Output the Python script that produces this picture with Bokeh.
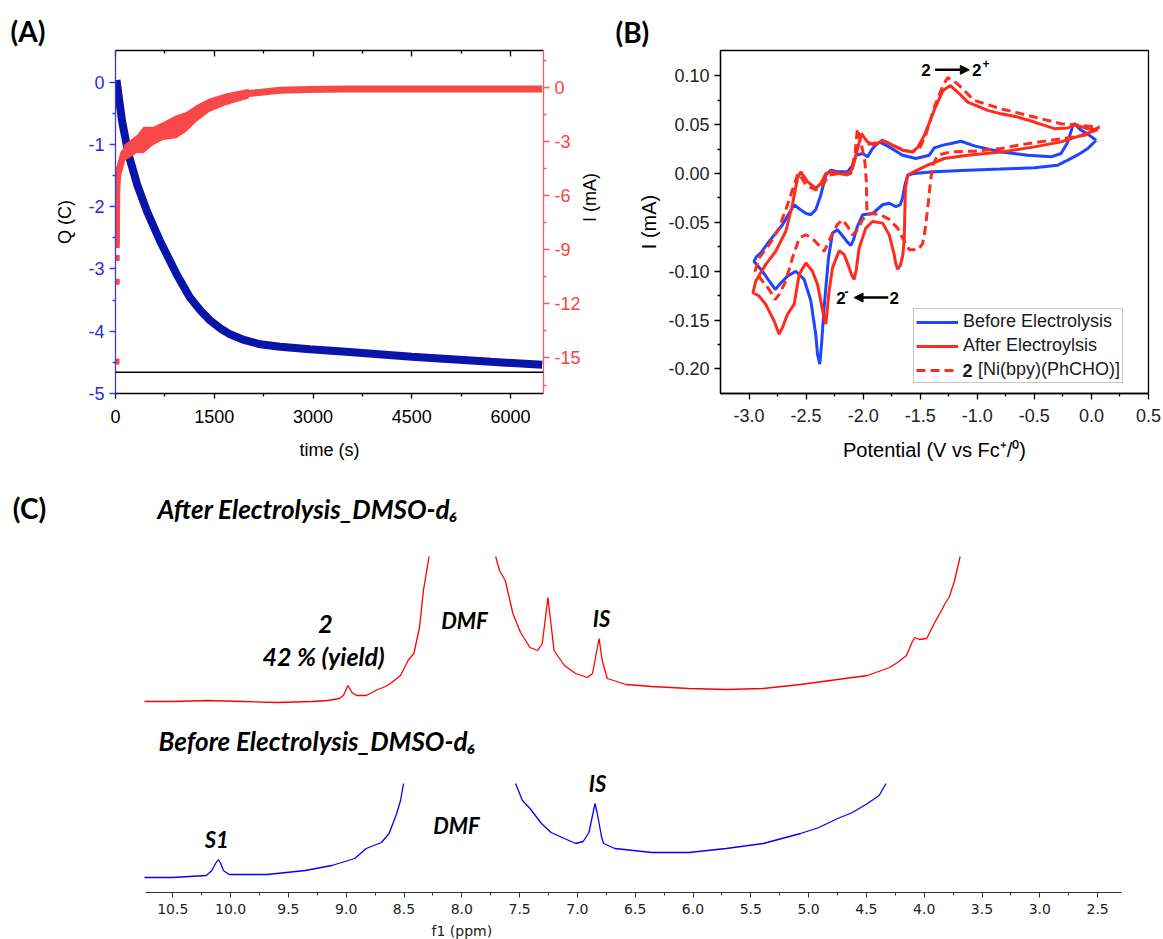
import math
from bokeh.plotting import figure
from bokeh.layouts import column, row
from bokeh.models import (Range1d, LinearAxis, FixedTicker, Span, Label, Legend, Title,
                          LegendItem, Arrow, NormalHead, NumeralTickFormatter)
from bokeh.embed import file_html
from bokeh.resources import INLINE

# ---------------- Panel A : controlled potential electrolysis ----------------
q_time = [15, 100, 200, 330, 480, 680, 930, 1130, 1300, 1440, 1600, 1740, 1950, 2200,
          2500, 2950, 3500, 4000, 4500, 5100, 5700, 6480]
q_charge = [0.03, -0.63, -1.17, -1.65, -2.08, -2.56, -3.09, -3.46, -3.68, -3.83, -3.96,
            -4.05, -4.14, -4.21, -4.25, -4.29, -4.33, -4.37, -4.41, -4.45, -4.49, -4.54]
i_time = [12, 15, 20, 35, 75, 125, 200, 325, 425, 575, 725, 925, 1075, 1225, 1425, 1675,
          2025, 2500, 2925, 3500, 4500, 5500, 6480]
i_current = [-8.9, -7.4, -5.6, -4.8, -4.3, -3.64, -3.35, -3.12, -2.9, -2.67, -2.4, -2.17,
             -1.9, -1.44, -0.98, -0.65, -0.33, -0.15, -0.1, -0.08, -0.08, -0.08, -0.08]
noise_time = [125, 325, 425, 575, 725, 925, 1075, 1225, 1425, 1675, 2025]
noise_upper = [-3.18, -2.63, -2.17, -2.17, -1.9, -1.53, -1.35, -0.98, -0.61, -0.33, -0.06]
noise_lower = [-4.1, -3.62, -3.64, -3.18, -2.9, -2.81, -2.45, -1.9, -1.35, -0.98, -0.61]
spike_time = [15, 15, 18, 18, 15]
spike_current = [-8.25, -8.6, -9.45, -10.77, -15.2]
q_theoretical = -4.66
time_ticks = [0, 1500, 3000, 4500, 6000]
time_minor = [750, 2250, 3750, 5250]
q_ticks = [-5, -4, -3, -2, -1, 0]
q_minor = [-4.5, -3.5, -2.5, -1.5, -0.5]
i_ticks = [-15, -12, -9, -6, -3, 0]
i_minor = [-16.5, -13.5, -10.5, -7.5, -4.5, -1.5, 1.5]

# ---------------- Panel B : cyclic voltammograms ----------------
before_v = [0.042, -0.032, -0.12, -0.207, -0.295, -0.50, -0.80, -1.084, -1.377, -1.56,
            -1.61, -1.635, -1.655, -1.675, -1.713, -1.772, -1.83, -1.918, -2.005, -2.05,
            -2.085, -2.108, -2.14, -2.166, -2.225, -2.269, -2.304, -2.342, -2.365, -2.38,
            -2.40, -2.415, -2.459, -2.517, -2.59, -2.663, -2.722, -2.771, -2.824, -2.883,
            -2.956, -2.935, -2.897, -2.824, -2.707, -2.605, -2.55, -2.50, -2.459, -2.415,
            -2.371, -2.327, -2.283, -2.225, -2.137, -2.093, -2.064, -2.005, -1.962, -1.918,
            -1.859, -1.772, -1.655, -1.538, -1.421, -1.377, -1.30, -1.23, -1.143, -1.026,
            -0.79, -0.558, -0.353, -0.266, -0.207, -0.163, -0.148, -0.10, -0.03, 0.042]
before_i = [0.034, 0.0255, 0.019, 0.0136, 0.0085, 0.0058, 0.0045, 0.0034, 0.0018, 0.0,
            -0.002, -0.012, -0.025, -0.032, -0.034, -0.0305, -0.032, -0.041, -0.0423, -0.054,
            -0.068, -0.0735, -0.070, -0.066, -0.0576, -0.061, -0.0864, -0.137, -0.175, -0.195,
            -0.185, -0.165, -0.130, -0.1085, -0.100, -0.105, -0.112, -0.1186, -0.110, -0.100,
            -0.090, -0.085, -0.0813, -0.0695, -0.0525, -0.032, -0.037, -0.041, -0.0423, -0.037,
            -0.022, -0.0016, 0.0034, 0.0017, 0.0017, 0.0085, 0.0187, 0.0204, 0.017, 0.0255,
            0.0322, 0.0272, 0.0187, 0.0153, 0.0187, 0.0262, 0.029, 0.0306, 0.033, 0.0282,
            0.022, 0.0187, 0.017, 0.0204, 0.0323, 0.0492, 0.051, 0.045, 0.04, 0.034]
after_v = [0.056, -0.09, -0.266, -0.50, -0.79, -1.084, -1.289, -1.435, -1.552, -1.61,
           -1.63, -1.635, -1.64, -1.655, -1.675, -1.698, -1.715, -1.728, -1.772, -1.83,
           -1.918, -1.977, -2.035, -2.06, -2.079, -2.10, -2.122, -2.166, -2.21, -2.269,
           -2.30, -2.327, -2.345, -2.40, -2.444, -2.502, -2.561, -2.605, -2.663, -2.707,
           -2.736, -2.78, -2.853, -2.912, -2.965, -2.941, -2.853, -2.766, -2.678, -2.62,
           -2.576, -2.546, -2.488, -2.415, -2.371, -2.327, -2.283, -2.21, -2.137, -2.093,
           -2.049, -2.014, -1.985, -1.962, -1.903, -1.83, -1.742, -1.655, -1.567, -1.52,
           -1.46, -1.37, -1.30, -1.236, -1.16, -1.084, -0.909, -0.792, -0.646, -0.50,
           -0.324, -0.207, -0.148, -0.032, 0.056]
after_i = [0.045, 0.039, 0.0323, 0.0272, 0.022, 0.0187, 0.0153, 0.0085, 0.0018, -0.0016,
           -0.015, -0.04, -0.069, -0.085, -0.094, -0.098, -0.092, -0.083, -0.0627, -0.0508,
           -0.0491, -0.0559, -0.0762, -0.098, -0.1085, -0.104, -0.0966, -0.083, -0.079, -0.0966,
           -0.122, -0.154, -0.146, -0.1135, -0.100, -0.0915, -0.1034, -0.134, -0.144, -0.1576,
           -0.1644, -0.151, -0.134, -0.1254, -0.122, -0.110, -0.093, -0.0796, -0.0593, -0.032,
           -0.005, 0.0017, -0.0084, -0.0152, -0.0101, 0.0, 0.0017, 0.0, -0.0016, 0.0051,
           0.0255, 0.0407, 0.036, 0.0323, 0.0289, 0.034, 0.0289, 0.0238, 0.0221, 0.027,
           0.040, 0.067, 0.085, 0.0899, 0.082, 0.073, 0.0645, 0.061, 0.0577, 0.0526,
           0.0458, 0.0465, 0.0499, 0.0458, 0.045]
complex_v = [0.071, -0.061, -0.353, -0.646, -0.79, -1.026, -1.23, -1.347, -1.39, -1.41,
             -1.435, -1.46, -1.48, -1.52, -1.596, -1.655, -1.698, -1.772, -1.845, -1.918,
             -1.962, -2.005, -2.05, -2.093, -2.137, -2.181, -2.225, -2.283, -2.342, -2.40,
             -2.444, -2.502, -2.56, -2.62, -2.678, -2.736, -2.771, -2.824, -2.883, -2.947,
             -2.912, -2.824, -2.736, -2.663, -2.605, -2.576, -2.561, -2.502, -2.415, -2.356,
             -2.298, -2.21, -2.108, -2.07, -2.05, -2.02, -1.985, -1.972, -1.968, -1.962]
complex_i = [0.0475, 0.039, 0.034, 0.0289, 0.0255, 0.0228, 0.0221, 0.0187, 0.0085, -0.008,
             -0.036, -0.06, -0.072, -0.078, -0.078, -0.066, -0.0559, -0.047, -0.0423, -0.041,
             -0.0423, -0.047, -0.0576, -0.063, -0.054, -0.0474, -0.052, -0.065, -0.0796, -0.072,
             -0.0665, -0.0627, -0.066, -0.0865, -0.110, -0.1237, -0.129, -0.1186, -0.110, -0.100,
             -0.0865, -0.0729, -0.0559, -0.032, -0.0118, -0.0016, 0.0, -0.0118, -0.0169, -0.0118,
             -0.0016, 0.0, 0.0, 0.022, 0.0458, 0.0323, 0.012, -0.0084, -0.0356, -0.042]
complex_ox_v = [-1.962, -1.90, -1.83, -1.74, -1.65, -1.567, -1.50, -1.45, -1.37, -1.30,
                -1.26, -1.20, -1.157, -1.026, -0.792, -0.50, -0.266, -0.09, 0.071]
complex_ox_i = [0.030, 0.031, 0.034, 0.029, 0.024, 0.022, 0.027, 0.040, 0.070, 0.090,
                0.098, 0.094, 0.0899, 0.0747, 0.0662, 0.0577, 0.0509, 0.0492, 0.0475]
cv_v_ticks = [-3.0, -2.5, -2.0, -1.5, -1.0, -0.5, 0.0, 0.5]
cv_v_minor = [-2.75, -2.25, -1.75, -1.25, -0.75, -0.25, 0.25]
cv_i_ticks = [-0.20, -0.15, -0.10, -0.05, 0.00, 0.05, 0.10]
cv_i_minor = [-0.175, -0.125, -0.075, -0.025, 0.025, 0.075]
cv_labels = ["Before Electrolysis", "After Electroylsis", "\u2007 [Ni(bpy)(PhCHO)]"]

# ---------------- Panel C : 1H NMR spectra ----------------
red_left_ppm = [10.745, 10.5, 10.2, 9.9, 9.6, 9.3, 9.157, 9.06, 9.024, 8.985, 8.95, 8.909,
                8.827, 8.76, 8.728, 8.68, 8.629, 8.53, 8.465, 8.415, 8.366, 8.332, 8.283]
red_left_int = [19.1, 19.1, 19.2, 19.1, 19.0, 19.1, 19.2, 19.4, 19.7, 20.7, 20.0, 19.7,
                19.7, 20.1, 20.3, 20.5, 20.8, 21.7, 23.2, 23.9, 26.5, 30.2, 33.6]
red_right_ppm = [7.707, 7.674, 7.624, 7.558, 7.492, 7.41, 7.344, 7.304, 7.272, 7.255,
                 7.235, 7.202, 7.113, 7.015, 6.915, 6.869, 6.837, 6.812, 6.786, 6.741,
                 6.58, 6.356, 6.035, 5.713, 5.392, 5.07, 4.749, 4.491, 4.299, 4.23,
                 4.154, 4.106, 4.081, 4.042, 3.978, 3.914, 3.85, 3.82, 3.785, 3.737, 3.689]
red_right_int = [33.6, 32.2, 31.2, 27.9, 26.0, 24.5, 24.2, 24.9, 27.9, 29.5,
                 27.5, 24.2, 22.7, 21.9, 21.5, 21.9, 23.9, 25.4, 23.2, 21.4,
                 20.8, 20.6, 20.4, 20.3, 20.4, 20.8, 21.3, 21.7, 22.5, 23.0,
                 23.7, 25.0, 25.5, 25.3, 25.4, 26.9, 28.2, 28.9, 29.5, 31.2, 33.6]
blue_left_ppm = [10.745, 10.5, 10.21, 10.162, 10.13, 10.106, 10.085, 10.062, 10.013, 9.683,
                 9.354, 9.124, 8.926, 8.827, 8.695, 8.629, 8.563, 8.53, 8.504]
blue_left_int = [1.5, 1.5, 1.7, 2.2, 2.9, 3.3, 2.9, 2.2, 1.8, 1.8,
                 2.2, 2.7, 3.4, 4.4, 5.0, 5.9, 7.9, 9.2, 10.9]
blue_right_ppm = [7.535, 7.476, 7.41, 7.311, 7.228, 7.113, 7.015, 6.95, 6.90, 6.875,
                  6.847, 6.83, 6.812, 6.79, 6.773, 6.677, 6.516, 6.356, 6.035, 5.713,
                  5.392, 5.07, 4.91, 4.749, 4.62, 4.491, 4.39, 4.33]
blue_right_int = [10.9, 9.2, 8.4, 6.9, 6.0, 5.4, 4.9, 5.1, 6.0, 7.4,
                  8.9, 8.0, 6.9, 5.5, 4.9, 4.4, 4.2, 4.0, 4.0, 4.4,
                  4.9, 5.9, 6.5, 7.4, 8.0, 8.9, 9.7, 10.9]
nmr_ticks = [10.5, 10.0, 9.5, 9.0, 8.5, 8.0, 7.5, 7.0, 6.5, 6.0, 5.5, 5.0, 4.5, 4.0, 3.5,
             3.0, 2.5]
nmr_minor = [10.25, 9.75, 9.25, 8.75, 8.25, 7.75, 7.25, 6.75, 6.25, 5.75, 5.25, 4.75,
             4.25, 3.75, 3.25, 2.75]
nmr_axis_extent = (2.29, 10.736)

FONT = "Liberation Sans"
TITLE_FONT = "Lato"
A_BLUE = "#0a14aa"
A_BLUE_AX = "#3a3ae6"
A_RED = "#f84848"
B_BLUE = "#1e46ff"
B_RED = "#ff2b1c"


def style_axis(ax, line_color="black", label_color="black", size="18px", font=FONT,
               t_out=6, t_in=0, m_out=3, m_in=0):
    ax.axis_line_color = line_color
    ax.axis_line_width = 1.3
    ax.major_tick_line_color = line_color
    ax.minor_tick_line_color = line_color
    ax.major_tick_line_width = 1.3
    ax.minor_tick_line_width = 1.3
    ax.major_label_text_color = label_color
    ax.major_label_text_font = font
    ax.major_label_text_font_size = size
    ax.axis_label_text_font = font
    ax.axis_label_text_font_style = "normal"
    ax.axis_label_text_color = "black"
    ax.major_tick_out = t_out
    ax.major_tick_in = t_in
    ax.minor_tick_out = m_out
    ax.minor_tick_in = m_in


def panel_title(text, offset, standoff):
    return Title(text=text, align="left", offset=offset, standoff=standoff,
                 text_font=TITLE_FONT, text_font_style="bold", text_font_size="28px",
                 text_color="black")


# ================= Panel A =================
pA = figure(width=612, height=470, output_backend="svg", toolbar_location=None,
            x_range=Range1d(0, 6500), y_range=Range1d(-5, 0.506),
            min_border_left=115, min_border_right=63, min_border_top=50, min_border_bottom=75)
pA.outline_line_color = None
pA.grid.visible = False
pA.extra_y_ranges = {"cur": Range1d(-16.97, 2.06)}

xa = pA.xaxis[0]
xa.ticker = FixedTicker(ticks=time_ticks, minor_ticks=time_minor)
xa.formatter = NumeralTickFormatter(format="0")
xa.axis_label = "time (s)"
style_axis(xa, t_out=5, m_out=3)
xa.major_label_standoff = 11
xa.axis_label_standoff = 14
xa.axis_label_text_font_size = "18px"

ya = pA.yaxis[0]
ya.ticker = FixedTicker(ticks=q_ticks, minor_ticks=q_minor)
ya.formatter = NumeralTickFormatter(format="0")
ya.axis_label = "Q (C)"
style_axis(ya, line_color=A_BLUE_AX, label_color="#2a2ad8", t_out=6, m_out=3)
ya.major_label_standoff = 5
ya.axis_label_standoff = 10
ya.axis_label_text_font_size = "18px"

ra = LinearAxis(y_range_name="cur", ticker=FixedTicker(ticks=i_ticks, minor_ticks=i_minor),
                formatter=NumeralTickFormatter(format="0"), axis_label="I (mA)")
style_axis(ra, line_color="#ff5a5a", label_color="#ff4040", t_out=6, m_out=3)
ra.major_label_standoff = 5
ra.axis_label_standoff = 6
ra.axis_label_text_font_size = "18px"
ra.axis_label_orientation = math.pi / 2
pA.add_layout(ra, "right")

ta = LinearAxis(ticker=FixedTicker(ticks=time_ticks, minor_ticks=time_minor))
style_axis(ta, t_out=0, t_in=6, m_out=0, m_in=3)
ta.major_label_overrides = {t: "" for t in time_ticks}
ta.major_label_standoff = 0
pA.add_layout(ta, "above")
pA.add_layout(panel_title("(A)", -105, 5), "above")

pA.line(q_time, q_charge, line_width=8, color=A_BLUE)
pA.varea(x=noise_time, y1=noise_lower, y2=noise_upper, y_range_name="cur", fill_color=A_RED)
pA.line(i_time, i_current, y_range_name="cur", line_width=7, color=A_RED)
pA.scatter(spike_time, spike_current, y_range_name="cur", marker="square", size=5,
           color=A_RED)
pA.add_layout(Span(location=q_theoretical, dimension="width", line_color="black",
                   line_width=1.5))

# ================= Panel B =================
pB = figure(width=551, height=470, output_backend="svg", toolbar_location=None,
            x_range=Range1d(-3.25, 0.5), y_range=Range1d(-0.2251, 0.1258),
            min_border_left=108, min_border_right=15, min_border_top=48, min_border_bottom=77)
pB.outline_line_color = "black"
pB.outline_line_width = 1.3
pB.grid.visible = False

bx = pB.xaxis[0]
bx.ticker = FixedTicker(ticks=cv_v_ticks, minor_ticks=cv_v_minor)
bx.formatter = NumeralTickFormatter(format="0.0")
bx.axis_label = "Potential (V vs Fc\u207a/\u2070)"
style_axis(bx, label_color="#222222")
bx.major_label_standoff = 9
bx.axis_label_standoff = 14
bx.axis_label_text_font_size = "20px"

by = pB.yaxis[0]
by.ticker = FixedTicker(ticks=cv_i_ticks, minor_ticks=cv_i_minor)
by.formatter = NumeralTickFormatter(format="0.00")
by.axis_label = "I (mA)"
style_axis(by, label_color="#222222")
by.major_label_standoff = 5
by.axis_label_standoff = 5
by.axis_label_text_font_size = "20px"
pB.add_layout(panel_title("(B)", -105, 3), "above")

r_before = pB.line(before_v, before_i, line_width=3, color=B_BLUE)
r_after = pB.line(after_v, after_i, line_width=3, color=B_RED)
r_cplx = pB.line(complex_v, complex_i, line_width=3, color=B_RED, line_dash="9 5")
pB.line(complex_ox_v, complex_ox_i, line_width=3, color=B_RED, line_dash="9 5")

# bold compound number drawn beneath a see-through legend box
pB.add_layout(Label(x=242, y=23, x_units="screen", y_units="screen", text="2",
                    text_font=FONT, text_font_style="bold", text_font_size="18px",
                    text_color="#1a1a1a", text_align="left", text_baseline="middle"))
legend = Legend(items=[LegendItem(label=cv_labels[0], renderers=[r_before]),
                       LegendItem(label=cv_labels[1], renderers=[r_after]),
                       LegendItem(label=cv_labels[2], renderers=[r_cplx])],
                location=(193, 10), padding=2, spacing=3, margin=0, glyph_width=42,
                glyph_height=20, label_height=20, label_standoff=5,
                label_text_font=FONT, label_text_font_size="18px",
                label_text_color="#1a1a1a", border_line_color="#8c8c8c",
                border_line_width=1, background_fill_alpha=0)
pB.add_layout(legend)

bold_lbl = dict(text_font=FONT, text_font_style="bold", text_font_size="17px",
                text_align="center", text_baseline="middle", text_color="black")
pB.add_layout(Label(x=-1.45, y=0.106, text="2", **bold_lbl))
pB.add_layout(Label(x=-1.005, y=0.106, text="2", **bold_lbl))
pB.add_layout(Label(x=-0.955, y=0.112, text="+", text_font=FONT, text_font_style="bold",
                    text_font_size="12px", text_align="left", text_baseline="middle",
                    text_color="black"))
pB.add_layout(Arrow(end=NormalHead(size=9, fill_color="black", line_color="black"),
                    x_start=-1.37, y_start=0.106, x_end=-1.07, y_end=0.106,
                    line_width=2.5, line_color="black"))
pB.add_layout(Label(x=-2.195, y=-0.127, text="2", **bold_lbl))
pB.add_layout(Label(x=-2.165, y=-0.121, text="-", text_font=FONT, text_font_style="bold",
                    text_font_size="13px", text_align="left", text_baseline="middle",
                    text_color="black"))
pB.add_layout(Arrow(end=NormalHead(size=9, fill_color="black", line_color="black"),
                    x_start=-1.78, y_start=-0.127, x_end=-2.08, y_end=-0.127,
                    line_width=2.5, line_color="black"))
pB.add_layout(Label(x=-1.728, y=-0.127, text="2", **bold_lbl))

# ================= Panel C =================
pC = figure(width=1163, height=469, output_backend="svg", toolbar_location=None,
            x_range=Range1d(11.9905, 1.930), y_range=Range1d(-4.7, 42.2),
            x_axis_location=None, y_axis_location=None,
            min_border_left=0, min_border_right=0, min_border_top=0, min_border_bottom=0)
pC.outline_line_color = None
pC.grid.visible = False
cx = LinearAxis(fixed_location=0, bounds=nmr_axis_extent,
                ticker=FixedTicker(ticks=nmr_ticks, minor_ticks=nmr_minor),
                formatter=NumeralTickFormatter(format="0.0"))
style_axis(cx, line_color="#333333", label_color="#222222", size="14px", font="DejaVu Sans",
           t_out=5, m_out=3)
cx.axis_line_width = 1
cx.major_tick_line_width = 1
cx.minor_tick_line_width = 1
cx.major_label_standoff = 6
pC.add_layout(cx, "below")

pC.line(red_left_ppm, red_left_int, color="#ff0000", line_width=1.3)
pC.line(red_right_ppm, red_right_int, color="#ff0000", line_width=1.3)
pC.line(blue_left_ppm, blue_left_int, color="#0000ff", line_width=1.3)
pC.line(blue_right_ppm, blue_right_int, color="#0000ff", line_width=1.3)

pC.add_layout(Label(x=8.0, y=-3.8, text="f1 (ppm)",
                    text_font="DejaVu Sans", text_font_size="14px", text_color="#222222",
                    text_align="center", text_baseline="middle"))
pC.add_layout(Label(x=29, y=432, x_units="screen", y_units="screen", text="(C)",
                    text_font=TITLE_FONT, text_font_style="bold", text_font_size="28px",
                    text_align="center", text_baseline="middle", text_color="black"))
ttl = dict(x_units="screen", y_units="screen", text_font=TITLE_FONT,
           text_font_style="bold italic", text_font_size="26px", text_align="left",
           text_baseline="middle", text_color="black")
pC.add_layout(Label(x=157, y=431, text="After Electrolysis_DMSO-d\u2086", **ttl))
pC.add_layout(Label(x=158, y=199, text="Before Electrolysis_DMSO-d\u2086", **ttl))
pk = dict(text_font=TITLE_FONT, text_font_style="bold italic", text_font_size="25px",
          text_align="center", text_baseline="middle", text_color="black")
pk_caps = dict(pk, text_font_size="22px")
pC.add_layout(Label(x=9.18, y=26.9, text="2", **pk))
pC.add_layout(Label(x=9.196, y=23.7, text="42 % (yield)", **pk))
pC.add_layout(Label(x=7.977, y=27.2, text="DMF", **pk_caps))
pC.add_layout(Label(x=6.792, y=27.4, text="IS", **pk_caps))
pC.add_layout(Label(x=10.12, y=5.3, text="S1", **pk_caps))
pC.add_layout(Label(x=8.046, y=6.7, text="DMF", **pk_caps))
pC.add_layout(Label(x=6.826, y=10.9, text="IS", **pk_caps))

layout = column(row(pA, pB), pC)
open("out.html", "w").write(file_html(layout, INLINE))
